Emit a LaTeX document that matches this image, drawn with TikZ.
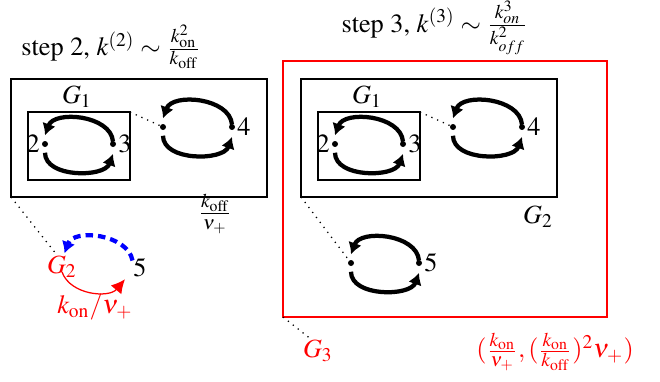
\documentclass[tikz,border=0pt]{standalone}
\usepackage[T1]{fontenc}
\usepackage{mathptmx}
\usepackage{tikz}
\usetikzlibrary{arrows.meta,positioning}
\definecolor{blueline}{HTML}{0000FF}
\definecolor{redline}{HTML}{FF0000}

\begin{document}
\begin{tikzpicture}[x=0.4pt,y=0.4pt,
    every node/.style={font=\fontsize{10.5}{12.5}\selectfont},
    dot/.style={circle,fill,inner sep=0pt,minimum size=2.4pt},
    box/.style={draw,line width=0.5pt},
    cyc/.style={line width=1.7pt,-{Latex[length=4.6pt,width=5.6pt]}},
    link/.style={dotted,line width=0.5pt}]
  \useasboundingbox (0,0) rectangle (660,381);

  % step 2
  \node (titleL) at (111,334) {step 2, $k^{(2)}\sim\frac{k_{\rm on}^2}{k_{\rm off}}$};
  \draw[box] (11,184) rectangle (267,302);
  \coordinate (bigL) at (11,184);
  \draw[box] (28,201) rectangle (130,269);
  \coordinate (g1Lne) at (130,269);
  \node (g1L) at (77,284) {$G_1$};
  \node[dot,label={[inner sep=0.5pt]left:2}] (d2L) at (45,237) {};
  \node[dot,label={[inner sep=0.5pt]right:3}] (d3L) at (113,237) {};
  \node[dot] (d4aL) at (163,254) {};
  \node[dot,label={[inner sep=0.5pt]right:4}] (d4bL) at (232,254) {};
  \draw[cyc] ([yshift=1pt]d3L.center) to[out=95,in=70,looseness=1.0] ([yshift=3.5pt]d2L.center);
  \draw[cyc] ([yshift=-3.5pt]d2L.center) to[out=-90,in=-110,looseness=0.95] ([yshift=-4pt]d3L.center);
  \draw[cyc] ([yshift=1pt]d4bL.center) to[out=95,in=70,looseness=1.0] ([yshift=3.5pt]d4aL.center);
  \draw[cyc] ([yshift=-3.5pt]d4aL.center) to[out=-90,in=-110,looseness=0.95] ([yshift=-4pt]d4bL.center);
  \draw[link] (g1Lne) -- (d4aL);
  \node (offL) at (215,167) {$\frac{k_{\rm off}}{\nu_+}$};

  \node[text=redline] (g2L) at (62,114) {$G_2$};
  \node (n5L) at (140,113) {5};
  \coordinate (g2Ltop) at (57,126);
  \draw[link] (bigL) -- (g2Ltop);
  \draw[blueline,line width=1.7pt,dash pattern=on 3pt off 2pt,-{Latex[length=4.6pt,width=5.6pt]}]
    ([xshift=-3pt,yshift=3pt]n5L.center) to[out=100,in=70,looseness=1.0] ([xshift=1pt,yshift=5.5pt]g2L.center);
  \draw[redline,line width=0.5pt,-{Latex[length=5.5pt,width=5.5pt]}]
    ([yshift=-2pt]g2L.center) to[out=-70,in=-130,looseness=1.0] ([xshift=-6pt,yshift=-4.5pt]n5L.center);
  \node[text=redline] (onL) at (95,74) {$k_{\rm on}/\nu_+$};

  % step 3
  \node (titleR) at (435,353) {step 3, $k^{(3)}\sim\frac{k_{on}^3}{k_{off}^2}$};
  \draw[box,draw=redline] (283,64) rectangle (607,320);
  \coordinate (redR) at (283,64);
  \draw[box] (301,184) rectangle (557,302);
  \coordinate (bigR) at (301,184);
  \draw[box] (318,201) rectangle (420,269);
  \coordinate (g1Rne) at (420,269);
  \node (g1R) at (367,284) {$G_1$};
  \node[dot,label={[inner sep=0.5pt]left:2}] (d2R) at (335,237) {};
  \node[dot,label={[inner sep=0.5pt]right:3}] (d3R) at (403,237) {};
  \node[dot] (d4aR) at (453,254) {};
  \node[dot,label={[inner sep=0.5pt]right:4}] (d4bR) at (522,254) {};
  \draw[cyc] ([yshift=1pt]d3R.center) to[out=95,in=70,looseness=1.0] ([yshift=3.5pt]d2R.center);
  \draw[cyc] ([yshift=-3.5pt]d2R.center) to[out=-90,in=-110,looseness=0.95] ([yshift=-4pt]d3R.center);
  \draw[cyc] ([yshift=1pt]d4bR.center) to[out=95,in=70,looseness=1.0] ([yshift=3.5pt]d4aR.center);
  \draw[cyc] ([yshift=-3.5pt]d4aR.center) to[out=-90,in=-110,looseness=0.95] ([yshift=-4pt]d4bR.center);
  \draw[link] (g1Rne) -- (d4aR);
  \node (g2R) at (538,164) {$G_2$};

  \node[dot] (d5aR) at (351,118) {};
  \node[dot,label={[inner sep=0.5pt]right:5}] (d5bR) at (419,118) {};
  \draw[cyc] ([yshift=1pt]d5bR.center) to[out=95,in=70,looseness=1.0] ([yshift=3.5pt]d5aR.center);
  \draw[cyc] ([yshift=-3.5pt]d5aR.center) to[out=-90,in=-110,looseness=0.95] ([yshift=-4pt]d5bR.center);
  \draw[link] (bigR) -- (d5aR);

  \node[text=redline] (g3R) at (318,30) {$G_3$};
  \coordinate (g3Rtop) at (312,41);
  \draw[link] (redR) -- (g3Rtop);
  \node[text=redline] (rateR) at (555,29) {$(\frac{k_{\rm on}}{\nu_+},(\frac{k_{\rm on}}{k_{\rm off}})^2\nu_+)$};
\end{tikzpicture}
\end{document}
